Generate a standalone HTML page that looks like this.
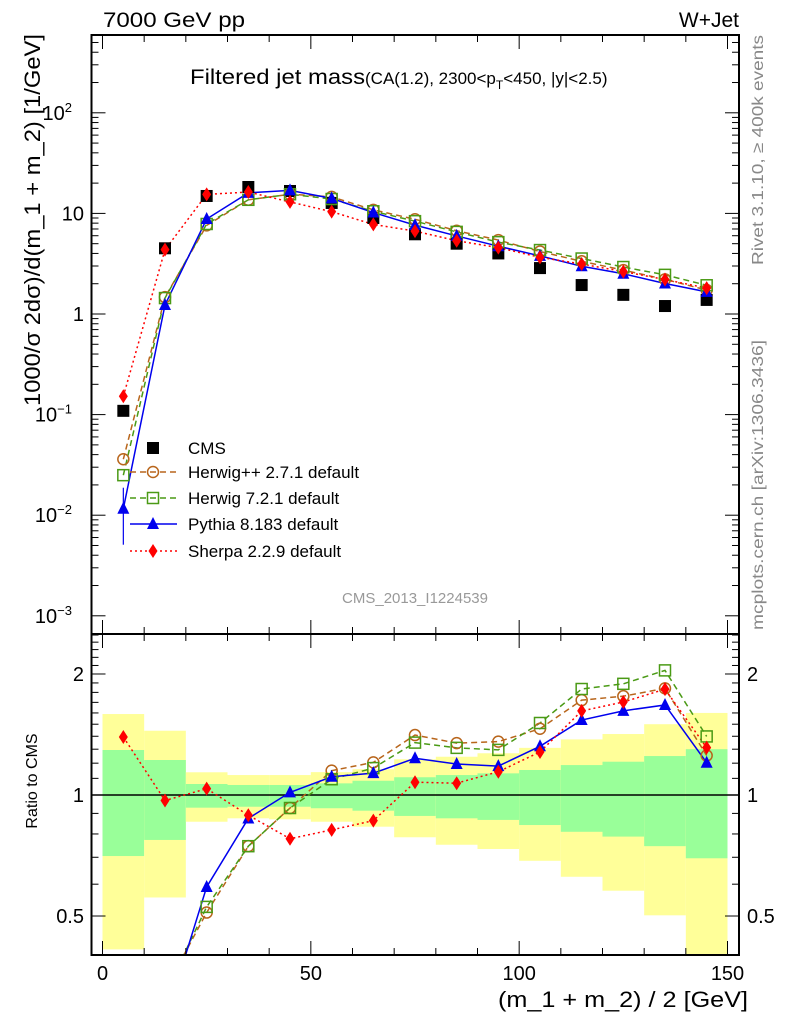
<!DOCTYPE html>
<html><head><meta charset="utf-8"><style>
html,body{margin:0;padding:0;background:#fff;width:786px;height:1024px;overflow:hidden;}
svg{display:block;font-family:"Liberation Sans",sans-serif;}
</style></head><body>
<svg id="c" width="786" height="1024" viewBox="0 0 786 1024" xmlns="http://www.w3.org/2000/svg">
<text x="103" y="27" font-size="21" textLength="142" lengthAdjust="spacingAndGlyphs">7000 GeV pp</text>
<text x="739" y="27" font-size="21" text-anchor="end">W+Jet</text>
<text x="190" y="84" font-size="21"><tspan textLength="175" lengthAdjust="spacingAndGlyphs">Filtered jet mass</tspan><tspan font-size="17">(CA(1.2), 2300&lt;p</tspan><tspan font-size="12" dy="5">T</tspan><tspan font-size="17" dy="-5">&lt;450, |y|&lt;2.5)</tspan></text>
<text transform="translate(763,150) rotate(-90)" font-size="16" fill="#888" text-anchor="middle" textLength="230" lengthAdjust="spacingAndGlyphs">Rivet 3.1.10, ≥ 400k events</text>
<text transform="translate(763,485) rotate(-90)" font-size="16" fill="#888" text-anchor="middle" textLength="290" lengthAdjust="spacingAndGlyphs">mcplots.cern.ch [arXiv:1306.3436]</text>
<text transform="translate(40,220) rotate(-90)" font-size="22" text-anchor="middle" textLength="372" lengthAdjust="spacingAndGlyphs">1000/σ 2dσ)/d(m_1 + m_2) [1/GeV]</text>
<text transform="translate(37,781) rotate(-90)" font-size="16" text-anchor="middle">Ratio to CMS</text>
<text x="748" y="1007" font-size="22" text-anchor="end" textLength="250" lengthAdjust="spacingAndGlyphs">(m_1 + m_2) / 2 [GeV]</text>
<text x="415" y="603" font-size="15" fill="#999" text-anchor="middle">CMS_2013_I1224539</text>
<g id="g"></g>
</svg>
<script>
const xCenters=[5,15,25,35,45,55,65,75,85,95,105,115,125,135,145];
const binEdges=[0,10,20,30,40,50,60,70,80,90,100,110,120,130,140,150];
const cms=[0.109,4.5,14.9,18.3,16.7,12.7,9.0,6.2,5.0,4.0,2.86,1.94,1.55,1.2,1.38];
const herwigpp=[0.036,1.47,7.6,13.65,15.5,14.6,10.85,8.74,6.73,5.43,4.18,3.34,2.73,2.21,1.73];
const herwig7=[0.025,1.44,7.85,13.65,15.5,13.9,10.5,8.37,6.55,5.18,4.32,3.56,2.93,2.45,1.93];
const pythia=[0.0116,1.23,8.8,16.0,16.95,14.1,10.2,7.65,5.97,4.72,3.78,2.98,2.51,2.01,1.66];
const sherpa=[0.152,4.36,15.45,16.3,13.0,10.4,7.77,6.67,5.35,4.57,3.66,3.14,2.64,2.2,1.81];
const bandTotUp=[1.59,1.445,1.139,1.121,1.121,1.14,1.159,1.227,1.245,1.27,1.31,1.375,1.418,1.5,1.6];
const bandTotDn=[0.413,0.556,0.858,0.875,0.87,0.858,0.834,0.785,0.752,0.734,0.686,0.626,0.578,0.502,0.38];
const bandStatUp=[1.294,1.222,1.065,1.059,1.059,1.069,1.085,1.107,1.121,1.132,1.154,1.187,1.21,1.25,1.3];
const bandStatDn=[0.705,0.773,0.93,0.935,0.935,0.927,0.914,0.887,0.875,0.867,0.842,0.81,0.788,0.746,0.696];
const xTicks=[0,50,100,150];
const yDecades=[-3,-2,-1,0,1,2];
const yDecadeLabels=["10","10","10","1","10","10"];
const yDecadeExp=["−3","−2","−1","","","2"];
const ratioTicks=[0.5,1,2];

const L=91.5,R=739,T=35,M=634,B=955;
const X=v=>102.5+v*(625/150);
const Y=v=>314-100.6*Math.log10(v);
const RY=v=>795-402*Math.log10(v);
const NS="http://www.w3.org/2000/svg";
const g=document.getElementById('g');
function mk(tag,attrs,parent){const e=document.createElementNS(NS,tag);for(const k in attrs)e.setAttribute(k,attrs[k]);(parent||g).appendChild(e);return e;}

const defs=mk('defs',{});
const cp1=mk('clipPath',{id:'cm'},defs);mk('rect',{x:L,y:T,width:R-L,height:M-T},cp1);
const cp2=mk('clipPath',{id:'cr'},defs);mk('rect',{x:L,y:M,width:R-L,height:B-M},cp2);

const gb=mk('g',{'clip-path':'url(#cr)'});


for(let i=0;i<xCenters.length;i++){
  const x0=X(binEdges[i]),x1=X(binEdges[i+1]);
  const r1=mk('rect',{x:x0,y:RY(bandTotUp[i]),width:x1-x0,height:RY(bandTotDn[i])-RY(bandTotUp[i]),fill:'#ffff99'},gb);
  
  
  const r2=mk('rect',{x:x0,y:RY(bandStatUp[i]),width:x1-x0,height:RY(bandStatDn[i])-RY(bandStatUp[i]),fill:'#99ff99'},gb);
  
  
}
mk('line',{x1:L,x2:R,y1:RY(1),y2:RY(1),stroke:'#000','stroke-width':1.5});

const series=[
 {name:'herwigpp',vals:herwigpp,color:'#b8651b',dash:'6,4',marker:'circle',label:'Herwig++ 2.7.1 default'},
 {name:'herwig7',vals:herwig7,color:'#4a9a15',dash:'6,4',marker:'square',label:'Herwig 7.2.1 default'},
 {name:'pythia',vals:pythia,color:'#0000ee',dash:'',marker:'triangle',label:'Pythia 8.183 default'},
 {name:'sherpa',vals:sherpa,color:'#ff0000',dash:'2,3',marker:'diamond',label:'Sherpa 2.2.9 default'}
];
function marker(type,x,y,color,parent){
  let e;
  if(type==='circle')e=mk('circle',{cx:x,cy:y,r:5.5,fill:'none',stroke:color,'stroke-width':1.5},parent);
  else if(type==='square')e=mk('rect',{x:x-5.5,y:y-5.5,width:11,height:11,fill:'none',stroke:color,'stroke-width':1.5},parent);
  else if(type==='triangle')e=mk('polygon',{points:`${x},${y-7} ${x-6},${y+5} ${x+6},${y+5}`,fill:color},parent);
  else if(type==='diamond')e=mk('polygon',{points:`${x},${y-7} ${x-4.5},${y} ${x},${y+7} ${x+4.5},${y}`,fill:color},parent);
  else e=mk('rect',{x:x-6,y:y-6,width:12,height:12,fill:color},parent);
  return e;
}
const gm=mk('g',{'clip-path':'url(#cm)'});
const gr=mk('g',{'clip-path':'url(#cr)'});
mk('line',{x1:X(xCenters[0]),x2:X(xCenters[0]),y1:Y(pythia[0])-21,y2:Y(pythia[0])+36,stroke:'#0000ee','stroke-width':1.2},gm);
for(const s of series){
  const pts=s.vals.map((v,i)=>X(xCenters[i])+','+Y(v)).join(' ');
  const pl=mk('polyline',{points:pts,fill:'none',stroke:s.color,'stroke-width':1.5,'stroke-dasharray':s.dash},gm);
  
  
  const rpts=s.vals.map((v,i)=>X(xCenters[i])+','+RY(v/cms[i])).join(' ');
  const rl=mk('polyline',{points:rpts,fill:'none',stroke:s.color,'stroke-width':1.5,'stroke-dasharray':s.dash},gr);
  
  
}
for(let i=0;i<cms.length;i++){
  const m=marker('cms',X(xCenters[i]),Y(cms[i]),'#000',gm);
  
  
}
for(const s of series){
  for(let i=0;i<s.vals.length;i++){
    const m=marker(s.marker,X(xCenters[i]),Y(s.vals[i]),s.color,gm);
    
    
    const r=s.vals[i]/cms[i];
    if(r>0.38&&r<2.6){
      const rm=marker(s.marker,X(xCenters[i]),RY(r),s.color,gr);
      
      
    }
  }
}

const lg=mk('g',{});


const legY=[448,472,498,524,551];
marker('cms',153,legY[0],'#000',lg);
const t0=mk('text',{x:188,y:legY[0]+6,'font-size':17},lg);t0.textContent='CMS';


series.forEach((s,k)=>{
  const y=legY[k+1];
  mk('line',{x1:130,x2:177,y1:y,y2:y,stroke:s.color,'stroke-width':1.5,'stroke-dasharray':s.dash},lg);
  marker(s.marker,153,y,s.color,lg);
  const t=mk('text',{x:188,y:y+6,'font-size':17},lg);t.textContent=s.label;
  
  
});

const f1=mk('rect',{x:L,y:T,width:R-L,height:M-T,fill:'none',stroke:'#000','stroke-width':2});


const f2=mk('rect',{x:L,y:M,width:R-L,height:B-M,fill:'none',stroke:'#000','stroke-width':2});



for(let v=0;v<=150;v+=10){
  const len=(v%50===0)?14:7, x=X(v);
  for(const [yb,dir] of [[T,1],[M,-1],[M,1],[B,-1]]) mk('line',{x1:x,x2:x,y1:yb,y2:yb+dir*len,stroke:'#000','stroke-width':1});
}
xTicks.forEach(v=>{const t=mk('text',{x:X(v),y:980,'font-size':20,'text-anchor':'middle'});t.textContent=v;
  
  });
for(let d=-3;d<=2;d++){
  for(let k=1;k<10;k++){
    const v=k*Math.pow(10,d),y=Y(v);
    if(y<T||y>M)continue;
    const len=k===1?14:7;
    mk('line',{x1:L,x2:L+len,y1:y,y2:y,stroke:'#000'});
    mk('line',{x1:R,x2:R-len,y1:y,y2:y,stroke:'#000'});
  }
}
yDecades.forEach((d,i)=>{
  const t=mk('text',{x:yDecadeExp[i]?72:84,y:Y(Math.pow(10,d))+7,'font-size':20,'text-anchor':'end'});
  t.textContent=yDecadeLabels[i];
  if(yDecadeExp[i]){const ts=mk('tspan',{dy:-8,'font-size':13},t);ts.textContent=yDecadeExp[i];}
  
  
});
for(let v=0.4;v<=2.51;v+=0.1){
  const vv=Math.round(v*10)/10,y=RY(vv);
  const len=(vv===0.5||vv===1||vv===2)?14:7;
  mk('line',{x1:L,x2:L+len,y1:y,y2:y,stroke:'#000'});
  mk('line',{x1:R,x2:R-len,y1:y,y2:y,stroke:'#000'});
}
ratioTicks.forEach(v=>{
  const a=mk('text',{x:84,y:RY(v)+7,'font-size':20,'text-anchor':'end'});a.textContent=v;
  
  
  const b=mk('text',{x:747,y:RY(v)+7,'font-size':20});b.textContent=v;
  
  
});
</script>
</body></html>
